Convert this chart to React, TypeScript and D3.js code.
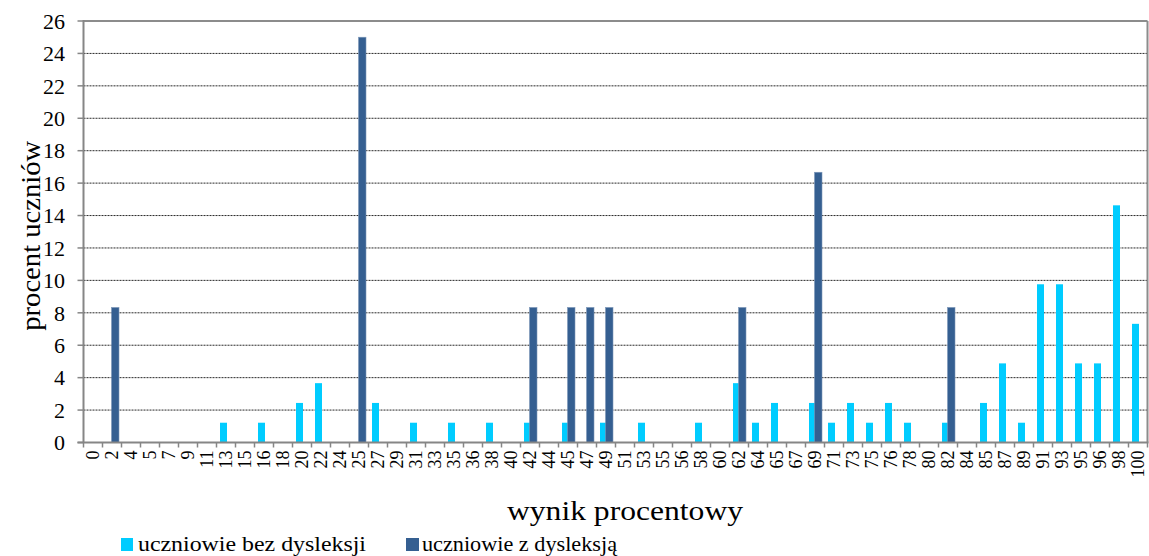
import React from "react";
import * as d3 from "d3";

const categories = ["0","2","4","5","7","9","11","13","15","16","18","20","22","24","25","27","29","31","33","35","36","38","40","42","44","45","47","49","51","53","55","56","58","60","62","64","65","67","69","71","73","75","76","78","80","82","84","85","87","89","91","93","95","96","98","100"];

const bezDysleksji = [0,0,0,0,0,0,0,1.22,0,1.22,0,2.44,3.66,0,0,2.44,0,1.22,0,1.22,0,1.22,0,1.22,0,1.22,0,1.22,0,1.22,0,0,1.22,0,3.66,1.22,2.44,0,2.44,1.22,2.44,1.22,2.44,1.22,0,1.22,0,2.44,4.88,1.22,9.76,9.76,4.88,4.88,14.63,7.32];

const zDysleksja = [0,8.33,0,0,0,0,0,0,0,0,0,0,0,0,25,0,0,0,0,0,0,0,0,8.33,0,8.33,8.33,8.33,0,0,0,0,0,0,8.33,0,0,0,16.67,0,0,0,0,0,0,8.33,0,0,0,0,0,0,0,0,0,0];

const yTicks = [0,2,4,6,8,10,12,14,16,18,20,22,24,26];

const seriesNames = ["uczniowie bez dysleksji", "uczniowie z dysleksją"];
const colors = ["#00CCFF", "#355F91"];

export default function App() {
  const W = 1149, H = 556;
  const left = 83.5, right = 1147.5, top = 21, bottom = 442.5;
  const x = d3.scaleBand<string>().domain(categories).range([left, right]).padding(0);
  const y = d3.scaleLinear().domain([0, 26]).range([bottom, top]);
  const bw = x.bandwidth();
  const fs = { fontFamily: "'Liberation Serif', 'Times New Roman', serif" };

  return (
    <svg width={W} height={H} style={{ position: "absolute", left: 0, top: 0, background: "#fff", fontFamily: "'Liberation Serif', serif" }}>
      <rect x={0} y={0} width={W} height={H} fill="#fff" />
      {yTicks.filter(t => t > 0 && t < 26).map(t => (
        <line key={"g" + t} x1={left} x2={right} y1={y(t)} y2={y(t)} stroke="#111" strokeWidth={0.9} strokeDasharray="2,1" />
      ))}
      <line x1={left} x2={right} y1={y(26)} y2={y(26)} stroke="#8c8c8c" strokeWidth={2} />
      <line x1={right} x2={right} y1={y(26)} y2={bottom} stroke="#8c8c8c" strokeWidth={2} />
      {categories.map((c, i) => {
        const cx = (x(c) as number) + bw / 2;
        const v1 = bezDysleksji[i];
        const v2 = zDysleksja[i];
        return (
          <g key={"b" + c}>
            {v1 > 0 && <rect x={cx - 6} y={y(v1)} width={7} height={bottom - y(v1)} fill={colors[0]} />}
            {v2 > 0 && <rect x={cx - 0.5} y={y(v2)} width={7.5} height={bottom - y(v2)} fill={colors[1]} stroke="#7d97b8" strokeWidth={0.6} />}
          </g>
        );
      })}
      <line x1={left} x2={left} y1={y(26) - 1} y2={bottom} stroke="#868686" strokeWidth={2} />
      {yTicks.map(t => (
        <g key={"y" + t}>
          <line x1={left - 6} x2={left} y1={y(t)} y2={y(t)} stroke="#868686" strokeWidth={1.5} />
          <text x={65} y={y(t)} dy="0.35em" textAnchor="end" fontSize={22} fill="#000" style={fs}>{t}</text>
        </g>
      ))}
      <line x1={left - 6} x2={right + 1} y1={bottom} y2={bottom} stroke="#868686" strokeWidth={2} />
      {categories.map((c, i) => (
        <line key={"xt" + i} x1={x(c) as number} x2={x(c) as number} y1={bottom} y2={bottom + 5} stroke="#868686" strokeWidth={1.5} />
      ))}
      <line x1={right} x2={right} y1={bottom} y2={bottom + 5} stroke="#868686" strokeWidth={1.5} />
      {categories.map(c => {
        const cx = (x(c) as number) + bw / 2;
        return (
          <text key={"xl" + c} transform={`translate(${cx},${bottom + 8}) rotate(-90)`} dy="0.35em" textAnchor="end" fontSize={18} fill="#000" style={fs}>{c}</text>
        );
      })}
      <text transform={`translate(31,${(top + bottom) / 2 + 4}) rotate(-90)`} textAnchor="middle" dy="0.35em" fontSize={27} fill="#000" style={fs} textLength={190} lengthAdjust="spacingAndGlyphs">procent uczniów</text>
      <text x={625} y={520} textAnchor="middle" fontSize={27} fill="#000" style={fs} textLength={236} lengthAdjust="spacingAndGlyphs">wynik procentowy</text>
      <rect x={121} y={538} width={12} height={13} fill={colors[0]} />
      <text x={138} y={551} fontSize={21} fill="#000" style={fs} textLength={228} lengthAdjust="spacingAndGlyphs">{seriesNames[0]}</text>
      <rect x={406} y={538} width={13} height={13} fill={colors[1]} />
      <text x={422} y={551} fontSize={21} fill="#000" style={fs} textLength={195} lengthAdjust="spacingAndGlyphs">{seriesNames[1]}</text>
    </svg>
  );
}
